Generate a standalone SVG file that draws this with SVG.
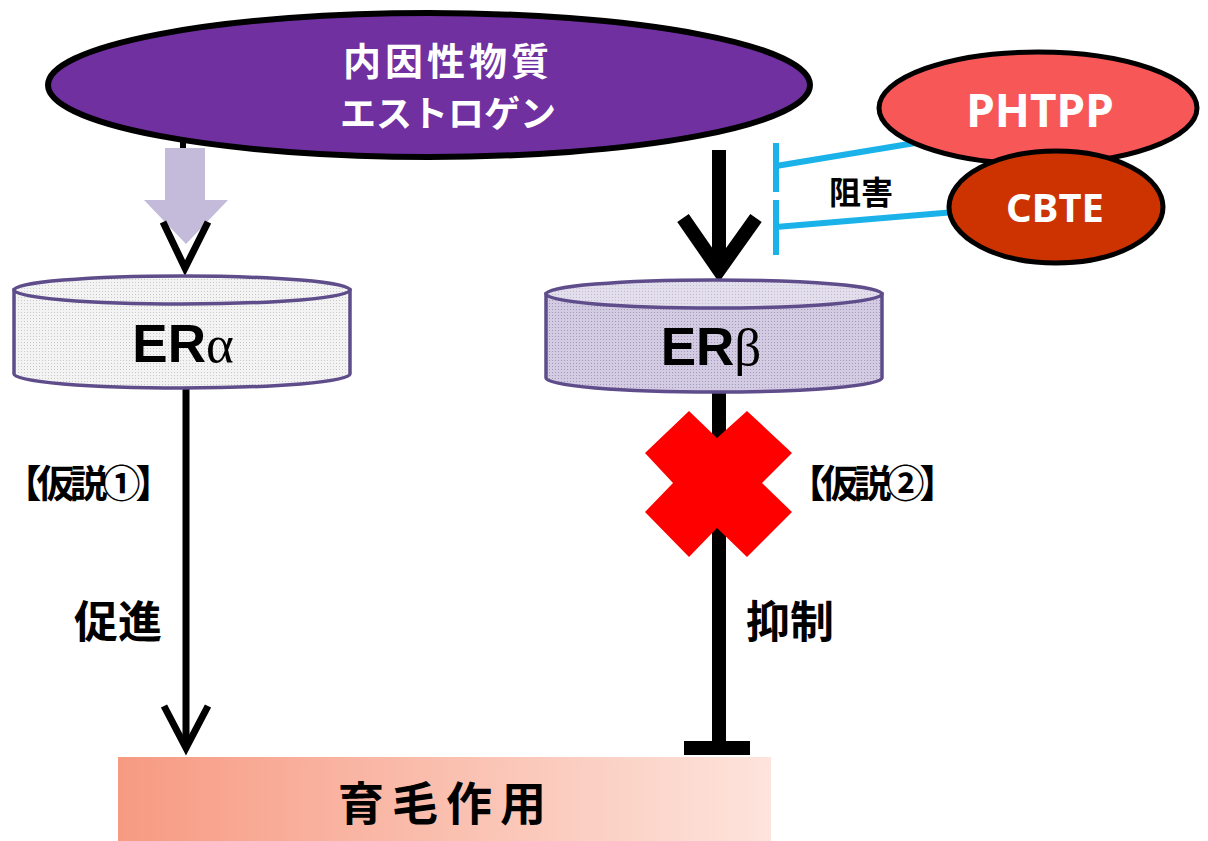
<svg xmlns="http://www.w3.org/2000/svg" width="1208" height="841" viewBox="0 0 1208 841">
<defs>
<style>
.jp{font-family:"Noto Sans CJK JP","Noto Sans",sans-serif;font-weight:700}
.lat{font-family:"Noto Sans","Liberation Sans",sans-serif;font-weight:700}
.er{font-family:"Liberation Sans",Arial,sans-serif;font-weight:700;font-size:53px;fill:#000}
.greek{font-family:"Liberation Serif","Times New Roman",serif;font-weight:400}
.cyl{stroke:#5E4D8A;stroke-width:3.5}
.blk{stroke:#000;fill:none}
.cyan{stroke:#1AB2E8;stroke-width:6;fill:none}
</style>
<pattern id="dotA" width="3" height="3" patternUnits="userSpaceOnUse">
<rect width="3" height="3" fill="#F3F3F3"/><rect width="1" height="1" fill="#C9C9C9"/>
</pattern>
<pattern id="dotB" width="3" height="3" patternUnits="userSpaceOnUse">
<rect width="3" height="3" fill="#D3CBE1"/><rect width="1" height="1" fill="#A498BD"/>
</pattern>
<pattern id="dotBt" width="3" height="3" patternUnits="userSpaceOnUse">
<rect width="3" height="3" fill="#E3DEEC"/><rect width="1" height="1" fill="#C2B9D4"/>
</pattern>
<linearGradient id="grad" x1="0" y1="0" x2="1" y2="0">
<stop offset="0" stop-color="#F79A82"/>
<stop offset="1" stop-color="#FDE4DC"/>
</linearGradient>
</defs>
<rect width="1208" height="841" fill="#FFFFFF"/>

<g id="connectors">
<line class="blk" x1="183" y1="140" x2="183" y2="152" stroke-width="6"/>
<polygon points="165,148 205,148 205,200 228,200 186,244 144,200 165,200" fill="#C3BBD9"/>
<polyline class="blk" points="163,222 185,268 208,222" stroke-width="7"/>
<line class="blk" x1="719" y1="150" x2="719" y2="270" stroke-width="14"/>
<polyline class="blk" points="683,218 719,270 756,218" stroke-width="14"/>
<line class="blk" x1="186" y1="388" x2="186" y2="745" stroke-width="7"/>
<polyline class="blk" points="164,706 186,748 208,706" stroke-width="7"/>
<line class="blk" x1="719" y1="392" x2="719" y2="745" stroke-width="14"/>
<rect x="684" y="741" width="66" height="14" fill="#000"/>
<line class="cyan" x1="776" y1="143" x2="776" y2="192"/>
<line class="cyan" x1="776" y1="200" x2="776" y2="255"/>
<line class="cyan" x1="776" y1="166" x2="915" y2="143"/>
<line class="cyan" x1="776" y1="227" x2="955" y2="212"/>
</g>

<g id="estrogen">
<ellipse cx="429" cy="85" rx="381" ry="72" fill="#7030A0" stroke="#000" stroke-width="6"/>
<text class="jp" x="448" y="75" font-size="38" letter-spacing="4" fill="#FFFFFF" text-anchor="middle">内因性物質</text>
<text class="jp" x="448" y="127" font-size="36" fill="#FFFFFF" text-anchor="middle">エストロゲン</text>
</g>

<g id="phtpp">
<ellipse cx="1038" cy="108" rx="159" ry="56" fill="#F75757" stroke="#000" stroke-width="5"/>
<text class="lat" x="1040" y="127" font-size="46" fill="#FFFFFF" text-anchor="middle">PHTPP</text>
</g>

<g id="cbte">
<ellipse cx="1056" cy="207" rx="107" ry="56" fill="#CC3300" stroke="#000" stroke-width="5"/>
<text class="lat" x="1055" y="222" font-size="40" fill="#FFFFFF" text-anchor="middle">CBTE</text>
</g>

<g id="label-inhibit">
<text class="jp" x="861" y="204" font-size="32" fill="#000" text-anchor="middle">阻害</text>
</g>

<g id="era">
<path class="cyl" d="M14,290 L14,374 A168,14 0 0 0 350,374 L350,290 Z" fill="url(#dotA)"/>
<ellipse class="cyl" cx="182" cy="290" rx="168" ry="14" fill="url(#dotA)"/>
<text class="er" x="183" y="362" text-anchor="middle">ER<tspan class="greek">α</tspan></text>
</g>

<g id="erb">
<path class="cyl" d="M546,294 L546,378 A168,14 0 0 0 882,378 L882,294 Z" fill="url(#dotB)"/>
<ellipse class="cyl" cx="714" cy="294" rx="168" ry="14" fill="url(#dotBt)"/>
<text class="er" x="711" y="365" text-anchor="middle">ER<tspan class="greek">β</tspan></text>
</g>

<g id="cross">
<polygon points="689,411 717,438 747,411 792,453 762,483 792,512 747,557 717,528 689,557 645,512 673,483 645,453" fill="#FF0000"/>
</g>

<g id="labels">
<text class="jp" x="86" y="497" font-size="38" letter-spacing="-5" fill="#000" text-anchor="middle">【仮説①】</text>
<text class="jp" x="118" y="638" font-size="44" fill="#000" text-anchor="middle">促進</text>
<text class="jp" x="870" y="497" font-size="38" letter-spacing="-5" fill="#000" text-anchor="middle">【仮説②】</text>
<text class="jp" x="790" y="638" font-size="44" fill="#000" text-anchor="middle">抑制</text>
</g>

<g id="hair-growth">
<rect x="118" y="757" width="653" height="84" fill="url(#grad)"/>
<text class="jp" x="446" y="820" font-size="46" letter-spacing="8" fill="#000" text-anchor="middle">育毛作用</text>
</g>
</svg>
